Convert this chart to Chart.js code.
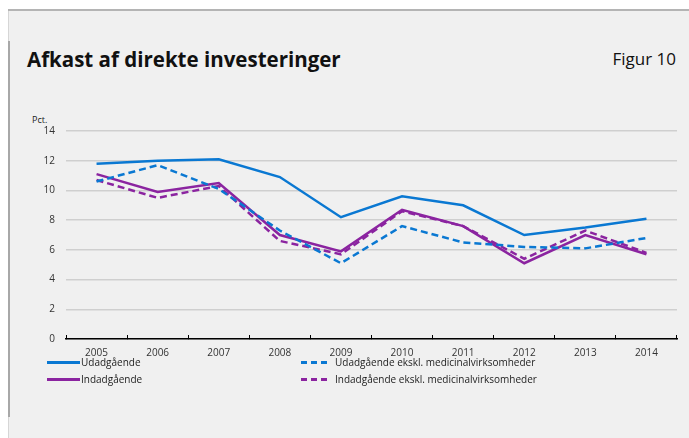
<!DOCTYPE html>
<html>
<head>
<meta charset="utf-8">
<script src="https://cdn.jsdelivr.net/npm/chart.js@4/dist/chart.umd.min.js"></script>
<style>
  body { margin:0; background:#fff; font-family:"Open Sans", sans-serif; }
  #wrap { position:absolute; left:8px; top:9px; width:681px; height:429px; background:#f0f0f0;
          border-top:2px solid #b4b4b4; box-sizing:border-box; }
  #lb1 { position:absolute; left:0; top:0; width:1px; height:429px; background:#d6d6d6; }
  #lb2 { position:absolute; left:0; top:30px; width:2px; height:376px; background:#a8a8a8; }
  #title { position:absolute; left:19px; top:34px; font-size:20.5px; font-weight:bold; color:#111; }
  #fig { position:absolute; right:13px; top:36px; font-size:17px; color:#111; }
  #unit { position:absolute; left:24px; top:102px; font-size:9px; color:#222; }
  canvas { position:absolute; left:0; top:0; }
  .lg { position:absolute; font-size:10px; color:#222; line-height:12px; white-space:nowrap; }
  .lg span { display:inline-block; height:0; vertical-align:middle; position:relative; top:-1px; }
</style>
</head>
<body>
<div id="wrap">
  <div id="lb1"></div><div id="lb2"></div>
  <div id="title">Afkast af direkte investeringer</div>
  <div id="fig">Figur 10</div>
  <div id="unit">Pct.</div>
</div>
<canvas id="myChart" width="689" height="438"></canvas>
<div id="legend"></div>
<script>
var years = ['2005','2006','2007','2008','2009','2010','2011','2012','2013','2014'];
var udad = [11.8, 12.0, 12.1, 10.9, 8.2, 9.6, 9.0, 7.0, 7.5, 8.1];
var udadEkskl = [10.6, 11.7, 10.1, 7.3, 5.1, 7.6, 6.5, 6.2, 6.1, 6.8];
var indad = [11.1, 9.9, 10.5, 7.0, 5.9, 8.7, 7.6, 5.1, 7.0, 5.7];
var indadEkskl = [10.7, 9.5, 10.3, 6.6, 5.7, 8.6, 7.6, 5.4, 7.3, 5.8];
var yTicks = [0, 2, 4, 6, 8, 10, 12, 14];

var blue = '#0a78d2';
var purple = '#8b24a0';

var series = [
  {label:'Udadgående', data:udad, color:blue, dash:[]},
  {label:'Udadgående ekskl. medicinalvirksomheder', data:udadEkskl, color:blue, dash:[7,4]},
  {label:'Indadgående', data:indad, color:purple, dash:[]},
  {label:'Indadgående ekskl. medicinalvirksomheder', data:indadEkskl, color:purple, dash:[7,4]}
];

// legend: two columns, two rows
var legendPos = [[47,356],[301,356],[47,373],[301,373]];
var htmlLg = '';
for (var i = 0; i < series.length; i++) {
  var s = series[i];
  var w = s.dash.length ? 26 : 33;
  var st = s.dash.length ? 'dashed' : 'solid';
  htmlLg += '<div class="lg" style="left:'+legendPos[i][0]+'px;top:'+legendPos[i][1]+'px">';
  htmlLg += '<span style="width:'+w+'px;border-top:3px '+st+' '+s.color+';margin-right:'+(s.dash.length?8:1)+'px"></span>'+s.label+'</div>';
}
document.getElementById('legend').innerHTML = htmlLg;

var datasets = series.map(function(s){
  return {
    label: s.label,
    data: s.data,
    borderColor: s.color,
    backgroundColor: s.color,
    borderWidth: 2.5,
    borderDash: s.dash,
    pointRadius: 0,
    tension: 0,
    fill: false
  };
});

var ctx = document.getElementById('myChart').getContext('2d');
var myChart = new Chart(ctx, {
  type: 'line',
  data: { labels: years, datasets: datasets },
  options: {
    responsive: false,
    animation: false,
    layout: { padding: { left: 0, right: 12, top: 131, bottom: 0 } },
    plugins: { legend: { display: false }, tooltip: { enabled: false } },
    scales: {
      x: {
        offset: true,
        grid: { display: true, drawOnChartArea: false, drawTicks: true, tickLength: -4, color: '#000', lineWidth: 1, offset: true },
        border: { display: true, color: '#000', width: 1.5 },
        ticks: { color: '#333', font: { family: 'Open Sans', size: 10 }, padding: 12, maxRotation: 0, autoSkip: false },
        afterFit: function(scale){ scale.height = 99; }
      },
      y: {
        min: 0, max: 14,
        afterBuildTicks: function(scale){ scale.ticks = yTicks.map(function(v){ return {value:v}; }); },
        grid: { color: '#cfcfcf', lineWidth: 1.5, drawTicks: false },
        border: { display: false },
        ticks: { color: '#333', font: { family: 'Open Sans', size: 10 }, padding: 11 },
        afterFit: function(scale){ scale.width = 66; }
      }
    }
  }
});
</script>
</body>
</html>
